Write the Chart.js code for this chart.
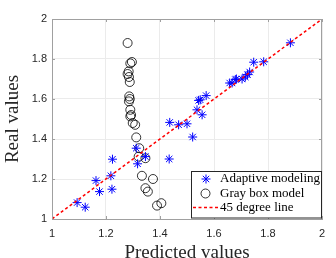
<!DOCTYPE html>
<html><head><meta charset="utf-8">
<script src="https://cdn.jsdelivr.net/npm/chart.js@4/dist/chart.umd.min.js"></script>
<style>html,body{margin:0;padding:0;background:#fff;}canvas{display:block;}</style>
</head><body>
<canvas id="c" width="336" height="258"></canvas>
<script>
const adaptiveX = [1.093,1.123,1.163,1.176,1.218,1.222,1.224,1.312,1.317,1.346,1.434,1.436,1.469,1.500,1.521,1.537,1.556,1.543,1.549,1.571,1.658,1.667,1.679,1.683,1.704,1.716,1.724,1.732,1.747,1.784,1.883];
const adaptiveY = [1.082,1.059,1.192,1.137,1.216,1.149,1.299,1.354,1.276,1.312,1.300,1.483,1.471,1.476,1.410,1.546,1.521,1.593,1.596,1.617,1.680,1.680,1.697,1.700,1.700,1.710,1.722,1.735,1.784,1.786,1.881];
const grayX = [1.280,1.296,1.290,1.284,1.280,1.285,1.288,1.286,1.288,1.285,1.290,1.293,1.290,1.299,1.308,1.312,1.323,1.321,1.346,1.333,1.374,1.346,1.355,1.389,1.405];
const grayY = [1.880,1.785,1.778,1.738,1.725,1.710,1.685,1.613,1.600,1.588,1.546,1.520,1.513,1.480,1.471,1.408,1.354,1.312,1.304,1.216,1.200,1.154,1.137,1.067,1.079];
const lineX = [1, 2];
const lineY = [1, 2];
const tickValues = [1, 1.2, 1.4, 1.6, 1.8, 2];
const seriesLabels = ['Adaptive modeling', 'Gray box model', '45 degree line'];
const xTitle = 'Predicted values';
const yTitle = 'Real values';

const pts = (xs, ys) => xs.map((x, i) => ({x: x, y: ys[i]}));
const serif = '"Liberation Serif", "DejaVu Serif", serif';
const sans = '"Liberation Sans", Arial, sans-serif';

const frame = {
  id: 'frame',
  afterDraw(chart) {
    const {ctx, chartArea: a, scales: {x, y}} = chart;
    ctx.save();
    ctx.strokeStyle = '#a0a0a0';
    ctx.lineWidth = 1;
    ctx.beginPath();
    ctx.moveTo(a.left, a.top + 0.5); ctx.lineTo(a.right, a.top + 0.5);
    ctx.moveTo(a.right - 0.5, a.top); ctx.lineTo(a.right - 0.5, a.bottom);
    tickValues.forEach(v => {
      const px = Math.round(x.getPixelForValue(v)) + 0.5;
      ctx.moveTo(px, a.top); ctx.lineTo(px, a.top + 3);
      ctx.moveTo(px, a.bottom); ctx.lineTo(px, a.bottom - 3);
      const py = Math.round(y.getPixelForValue(v)) + 0.5;
      ctx.moveTo(a.right, py); ctx.lineTo(a.right - 3, py);
      ctx.moveTo(a.left, py); ctx.lineTo(a.left + 3, py);
    });
    ctx.stroke();
    // legend
    const lx = 191.5, ly = 171.5, lw = 130, lh = 46.5;
    ctx.fillStyle = '#fff';
    ctx.fillRect(lx, ly, lw, lh);
    ctx.strokeStyle = '#262626';
    ctx.strokeRect(lx, ly, lw, lh);
    ctx.font = '13px ' + serif;
    ctx.fillStyle = '#000';
    ctx.textBaseline = 'middle';
    const rows = [179, 193.5, 207.5];
    const tx = 220;
    rows.forEach((ry, i) => ctx.fillText(chart.data.datasets[i].label, tx, ry));
    const ax = 206, ay = rows[0], r = 4.5;
    ctx.strokeStyle = '#0000ff';
    ctx.beginPath();
    ctx.moveTo(ax - r, ay); ctx.lineTo(ax + r, ay);
    ctx.moveTo(ax, ay - r); ctx.lineTo(ax, ay + r);
    const d = r * Math.SQRT1_2;
    ctx.moveTo(ax - d, ay - d); ctx.lineTo(ax + d, ay + d);
    ctx.moveTo(ax - d, ay + d); ctx.lineTo(ax + d, ay - d);
    ctx.stroke();
    ctx.strokeStyle = '#000';
    ctx.lineWidth = 0.8;
    ctx.beginPath();
    ctx.arc(205.5, rows[1], 4.5, 0, Math.PI * 2);
    ctx.stroke();
    ctx.strokeStyle = '#ff0000';
    ctx.lineWidth = 1.5;
    ctx.setLineDash([3, 2.5]);
    ctx.beginPath();
    ctx.moveTo(193, rows[2]); ctx.lineTo(219, rows[2]);
    ctx.stroke();
    ctx.restore();
  }
};

new Chart(document.getElementById('c'), {
  type: 'scatter',
  data: {
    datasets: [
      {label: seriesLabels[0], data: pts(adaptiveX, adaptiveY), pointStyle: 'star', radius: 4.5, borderColor: '#0000ff', backgroundColor: '#0000ff', borderWidth: 1, order: 2},
      {label: seriesLabels[1], data: pts(grayX, grayY), pointStyle: 'circle', radius: 4.5, borderColor: '#000000', backgroundColor: 'rgba(0,0,0,0)', borderWidth: 0.8, order: 3},
      {label: seriesLabels[2], data: pts(lineX, lineY), showLine: true, pointRadius: 0, borderColor: '#ff0000', borderWidth: 1.5, borderDash: [3, 2.5], order: 1}
    ]
  },
  options: {
    responsive: false,
    animation: false,
    devicePixelRatio: 1,
    layout: {padding: {top: 19, right: 14, bottom: 0, left: 0}},
    plugins: {legend: {display: false}, tooltip: {enabled: false}},
    scales: {
      x: {
        type: 'linear', min: 1, max: 2,
        afterFit: s => { s.height = 39; },
        afterBuildTicks: s => { s.ticks = tickValues.map(v => ({value: v})); },
        ticks: {font: {family: sans, size: 11}, color: '#262626', padding: 8, maxRotation: 0,
                callback: v => String(v)},
        grid: {color: '#ebebeb', drawTicks: false},
        border: {color: '#a0a0a0'},
        title: {display: true, text: xTitle, font: {family: serif, size: 19, lineHeight: 1}, color: '#262626', padding: {top: 0, bottom: -5}}
      },
      y: {
        type: 'linear', min: 1, max: 2,
        afterFit: s => { s.width = 52; },
        afterBuildTicks: s => { s.ticks = tickValues.map(v => ({value: v})); },
        ticks: {font: {family: sans, size: 11}, color: '#262626', padding: 5,
                callback: v => String(v)},
        grid: {color: '#ebebeb', drawTicks: false},
        border: {color: '#a0a0a0'},
        title: {display: true, text: yTitle, font: {family: serif, size: 19, lineHeight: 1}, color: '#262626', padding: {top: 4, bottom: 0}}
      }
    }
  },
  plugins: [frame]
});
</script>
</body></html>
